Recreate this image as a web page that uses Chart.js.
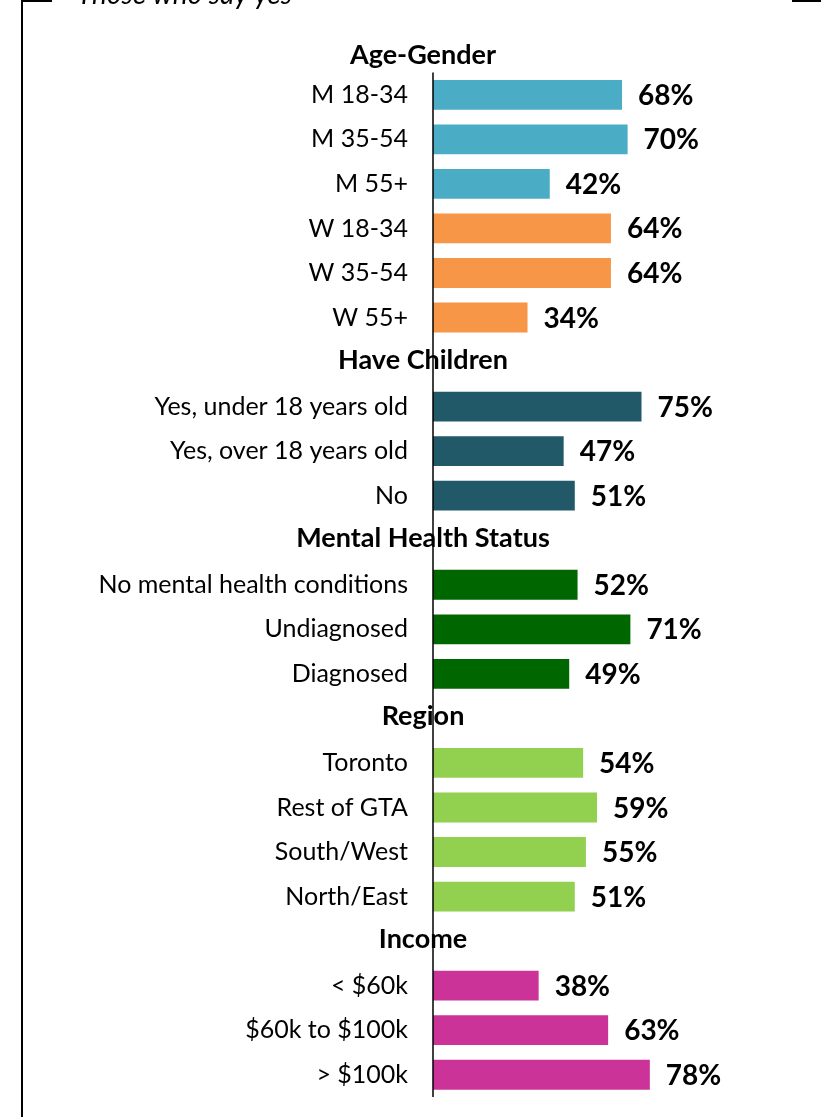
<!DOCTYPE html>
<html>
<head>
<meta charset="utf-8">
<script src="https://cdn.jsdelivr.net/npm/chart.js@4.4.1/dist/chart.umd.min.js"></script>
<style>
  html, body { margin: 0; padding: 0; background: #fff; }
  #box { position: relative; width: 821px; height: 1117px; overflow: hidden; }
  canvas { position: absolute; left: 0; top: 0; }
</style>
</head>
<body>
<div id="box"><canvas id="yesChart" width="821" height="1117"></canvas></div>
<script>
const groupNames = ['Age-Gender', 'Have Children', 'Mental Health Status', 'Region', 'Income'];

const ageGenderLabels = ['M 18-34', 'M 35-54', 'M 55+', 'W 18-34', 'W 35-54', 'W 55+'];
const ageGenderValues = [68, 70, 42, 64, 64, 34];

const childrenLabels = ['Yes, under 18 years old', 'Yes, over 18 years old', 'No'];
const childrenValues = [75, 47, 51];

const mentalLabels = ['No mental health conditions', 'Undiagnosed', 'Diagnosed'];
const mentalValues = [52, 71, 49];

const regionLabels = ['Toronto', 'Rest of GTA', 'South/West', 'North/East'];
const regionValues = [54, 59, 55, 51];

const incomeLabels = ['< $60k', '$60k to $100k', '> $100k'];
const incomeValues = [38, 63, 78];

const groupColors = [
  ['#4BACC6', '#4BACC6', '#4BACC6', '#F79646', '#F79646', '#F79646'],
  ['#215968', '#215968', '#215968'],
  ['#006600', '#006600', '#006600'],
  ['#92D050', '#92D050', '#92D050', '#92D050'],
  ['#CC3399', '#CC3399', '#CC3399']
];

// one header row per group, followed by its bars
const groupLabels = [ageGenderLabels, childrenLabels, mentalLabels, regionLabels, incomeLabels];
const groupValues = [ageGenderValues, childrenValues, mentalValues, regionValues, incomeValues];

const rowLabels = [];
const rowValues = [];
const rowColors = [];
const headerRows = [];
groupNames.forEach((name, g) => {
  headerRows.push({ index: rowLabels.length, text: name });
  rowLabels.push('');
  rowValues.push(null);
  rowColors.push('rgba(0,0,0,0)');
  groupLabels[g].forEach((lab, i) => {
    rowLabels.push(lab);
    rowValues.push(groupValues[g][i]);
    rowColors.push(groupColors[g][i]);
  });
});

const FONT = 'Lato, "Noto Sans", sans-serif';

const decorations = {
  id: 'decorations',
  afterDraw(chart) {
    const { ctx, chartArea, scales } = chart;
    const y = scales.y, x = scales.x;
    const pitch = y.getPixelForValue(1) - y.getPixelForValue(0);
    const axisTop = y.getPixelForValue(1) - pitch / 2;
    ctx.save();

    // frame and title
    ctx.fillStyle = '#000';
    ctx.fillRect(21, 0, 2, chart.height);
    ctx.fillRect(21, 0, 31, 2);
    ctx.fillRect(792, 0, 29, 2);
    ctx.font = 'italic 28px ' + FONT;
    ctx.textAlign = 'left';
    ctx.textBaseline = 'alphabetic';
    ctx.fillText('Those who say yes', 77, 4);

    // vertical axis line
    ctx.strokeStyle = '#000';
    ctx.lineWidth = 1.5;
    ctx.beginPath();
    ctx.moveTo(chartArea.left, axisTop);
    ctx.lineTo(chartArea.left, chartArea.bottom);
    ctx.stroke();

    // group headers (the first one sits just above where the axis starts)
    ctx.font = 'bold 27px ' + FONT;
    ctx.textAlign = 'center';
    ctx.textBaseline = 'middle';
    headerRows.forEach(h => {
      const hy = h.index === 0 ? axisTop - 17 : y.getPixelForValue(h.index) - 2;
      ctx.fillText(h.text, chartArea.left - 10, hy);
    });

    // value labels
    ctx.font = 'bold 28px ' + FONT;
    ctx.textAlign = 'left';
    rowValues.forEach((v, i) => {
      if (v === null) return;
      ctx.fillText(v + '%', x.getPixelForValue(v) + 16, y.getPixelForValue(i) + 1);
    });
    ctx.restore();
  }
};

new Chart(document.getElementById('yesChart'), {
  type: 'bar',
  data: {
    labels: rowLabels,
    datasets: [{
      data: rowValues,
      backgroundColor: rowColors,
      borderWidth: 0,
      barPercentage: 0.67,
      categoryPercentage: 1
    }]
  },
  options: {
    indexAxis: 'y',
    responsive: false,
    animation: false,
    devicePixelRatio: 1,
    layout: { padding: { top: 28, bottom: 20, left: 0, right: 110 } },
    plugins: {
      legend: { display: false },
      tooltip: { enabled: false }
    },
    scales: {
      x: { display: false, min: 0, max: 100 },
      y: {
        afterFit(scale) {
          scale.width = 433;
          scale.paddingTop = 0;
          scale.paddingBottom = 0;
        },
        grid: { display: false, drawTicks: false },
        border: { display: false },
        ticks: {
          color: '#000',
          padding: 25,
          autoSkip: false,
          font: { family: FONT, size: 25 }
        }
      }
    }
  },
  plugins: [decorations]
});
</script>
</body>
</html>
